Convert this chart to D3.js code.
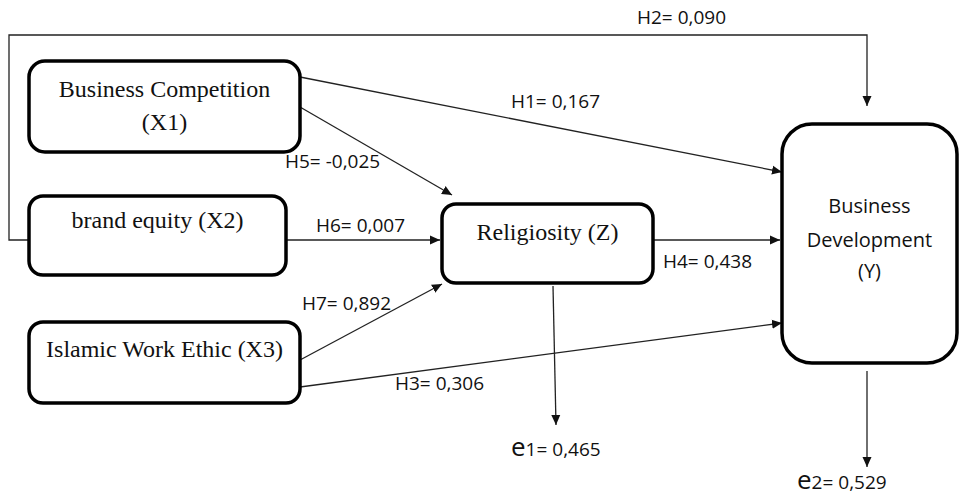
<!DOCTYPE html>
<html>
<head>
<meta charset="utf-8">
<script src="https://cdn.jsdelivr.net/npm/d3@7"></script>
<style>
  body { margin: 0; background: #fff; }
  svg { display: block; }
  .box { fill: #fff; stroke: #000; stroke-width: 3.5; }
  .path { fill: none; stroke: #222; stroke-width: 1.3; }
  .serif { font-family: "Liberation Serif", "Times New Roman", serif; font-size: 24px; fill: #111; }
  .sans { font-family: "Open Sans", "Noto Sans", sans-serif; font-size: 19px; fill: #111; }
</style>
</head>
<body>
<div id="diagram"></div>
<script>
// Variables of the model
var nodeIds = ['X1', 'X2', 'X3', 'Z', 'Y'];
var nodeLabels = [['Business Competition', '(X1)'], ['brand equity (X2)'], ['Islamic Work Ethic (X3)'], ['Religiosity (Z)'], ['Business', 'Development', '(Y)']];

// Hypothesised paths and their coefficients
var pathNames = ['H1', 'H2', 'H3', 'H4', 'H5', 'H6', 'H7'];
var pathFrom = ['X1', 'X2', 'X3', 'Z', 'X1', 'X2', 'X3'];
var pathTo = ['Y', 'Y', 'Y', 'Y', 'Z', 'Z', 'Z'];
var pathValues = ['0,167', '0,090', '0,306', '0,438', '-0,025', '0,007', '0,892'];

// Error terms
var errorNames = ['e1', 'e2'];
var errorOf = ['Z', 'Y'];
var errorValues = ['0,465', '0,529'];

var w = 960, h = 498;

// Layout of the boxes (pixel space)
var layout = {
  X1: { x: 29, y: 61, w: 271, h: 91, r: 16, lines: [97, 130], font: 'serif' },
  X2: { x: 29, y: 196, w: 257, h: 79, r: 14, lines: [228], font: 'serif' },
  X3: { x: 29, y: 322, w: 271, h: 81, r: 14, lines: [357], font: 'serif' },
  Z:  { x: 442, y: 204, w: 211, h: 79, r: 14, lines: [240], font: 'serif' },
  Y:  { x: 782, y: 124, w: 175, h: 239, r: 30, lines: [213, 247, 278], font: 'sans' }
};

// Edge geometry for each path: route points, label position
var edgeGeom = {
  H1: { pts: [[300, 77], [782, 172]], lab: [511, 108] },
  H2: { pts: [[29, 240], [9, 240], [9, 35], [867, 35], [867, 106]], lab: [637, 24] },
  H3: { pts: [[300, 387], [782, 323]], lab: [395, 390] },
  H4: { pts: [[653, 240], [780, 240]], lab: [663, 268] },
  H5: { pts: [[300, 107], [452, 195]], lab: [285, 168] },
  H6: { pts: [[286, 240], [440, 240]], lab: [316, 232] },
  H7: { pts: [[300, 360], [442, 284]], lab: [302, 310] }
};
var errGeom = {
  e1: { pts: [[553, 286], [556, 425]], lab: [511, 456] },
  e2: { pts: [[867, 371], [867, 467]], lab: [797, 489] }
};

var svg = d3.select('#diagram').append('svg')
  .attr('width', w)
  .attr('height', h);

svg.append('defs').append('marker')
  .attr('id', 'arrow')
  .attr('viewBox', '0 0 10 10')
  .attr('refX', 10).attr('refY', 5)
  .attr('markerWidth', 10).attr('markerHeight', 10)
  .attr('markerUnits', 'userSpaceOnUse')
  .attr('orient', 'auto')
  .append('path')
  .attr('d', 'M0,0.5 L10,5 L0,9.5 Z')
  .attr('fill', '#111');

var line = d3.line();

// Paths between variables
var edges = pathNames.map(function(n, i) {
  return { name: n, from: pathFrom[i], to: pathTo[i], value: pathValues[i] };
});

svg.selectAll('path.edge')
  .data(edges)
  .enter()
  .append('path')
  .attr('class', 'path edge')
  .attr('d', function(d) { return line(edgeGeom[d.name].pts); })
  .attr('marker-end', 'url(#arrow)');

svg.selectAll('text.edge-label')
  .data(edges)
  .enter()
  .append('text')
  .attr('class', 'sans edge-label')
  .attr('x', function(d) { return edgeGeom[d.name].lab[0]; })
  .attr('y', function(d) { return edgeGeom[d.name].lab[1]; })
  .text(function(d) { return d.name + '= ' + d.value; });

// Error terms
var errors = errorNames.map(function(n, i) {
  return { name: n, of: errorOf[i], value: errorValues[i] };
});

svg.selectAll('path.err')
  .data(errors)
  .enter()
  .append('path')
  .attr('class', 'path err')
  .attr('d', function(d) { return line(errGeom[d.name].pts); })
  .attr('marker-end', 'url(#arrow)');

var errText = svg.selectAll('text.err-label')
  .data(errors)
  .enter()
  .append('text')
  .attr('class', 'sans err-label')
  .attr('x', function(d) { return errGeom[d.name].lab[0]; })
  .attr('y', function(d) { return errGeom[d.name].lab[1]; });
errText.append('tspan')
  .style('font-size', '26px')
  .text(function(d) { return d.name.charAt(0); });
errText.append('tspan')
  .text(function(d) { return d.name.slice(1) + '= ' + d.value; });

// Boxes
var nodes = nodeIds.map(function(id, i) { return { id: id, lines: nodeLabels[i] }; });

var g = svg.selectAll('g.node')
  .data(nodes)
  .enter()
  .append('g')
  .attr('class', 'node');

g.append('rect')
  .attr('class', 'box')
  .attr('x', function(d) { return layout[d.id].x; })
  .attr('y', function(d) { return layout[d.id].y; })
  .attr('width', function(d) { return layout[d.id].w; })
  .attr('height', function(d) { return layout[d.id].h; })
  .attr('rx', function(d) { return layout[d.id].r; });

g.each(function(d) {
  var L = layout[d.id];
  d3.select(this).selectAll('text')
    .data(d.lines)
    .enter()
    .append('text')
    .attr('class', L.font)
    .attr('text-anchor', 'middle')
    .style('font-size', L.font === 'sans' ? '20px' : null)
    .attr('x', L.x + L.w / 2)
    .attr('y', function(t, i) { return L.lines[i]; })
    .text(function(t) { return t; });
});
</script>
</body>
</html>
